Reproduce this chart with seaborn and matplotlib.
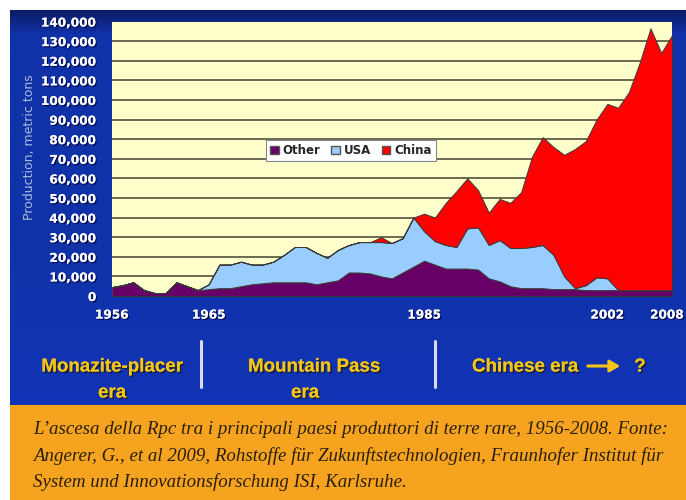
import numpy as np
import pandas as pd
import matplotlib
matplotlib.use("Agg")
import matplotlib.pyplot as plt
import matplotlib.transforms as mtransforms
import seaborn as sns
from matplotlib.patches import Rectangle, Patch, FancyArrowPatch
from matplotlib.lines import Line2D
import matplotlib.patheffects as pe

# ---------------- data ----------------
years = list(range(1956, 2009))
other = [4500, 5500, 7000, 3000, 1500, 1500, 7000, 5000, 3000, 3500,
         4000, 4000, 5000, 6000, 6500, 7000, 7000, 7000, 7000, 6000,
         7000, 8000, 12000, 12000, 11500, 10000, 9000, 12000, 15000, 18000,
         16000, 14000, 14000, 14000, 13500, 9000, 7500, 5000, 4000, 4000,
         4000, 3500, 3500, 3500, 3000, 3000, 3000, 3000, 3000, 3000,
         3000, 3000, 3000]
usa = [0, 0, 0, 0, 0, 0, 0, 0, 0, 2500,
       12000, 12000, 12500, 10000, 9500, 10500, 14000, 18000, 18000, 16000,
       12500, 15500, 14000, 15500, 16000, 17500, 18000, 17500, 25000, 15000,
       12000, 12000, 11000, 20500, 21500, 17000, 21000, 19500, 20500, 21000,
       22000, 17500, 6500, 500, 2500, 6500, 6000, 0, 0, 0,
       0, 0, 0]
china = [0, 0, 0, 0, 0, 0, 0, 0, 0, 0,
         0, 0, 0, 0, 0, 0, 0, 0, 0, 0,
         0, 0, 0, 0, 0, 2500, 0, 0, 0, 9000,
         12000, 21500, 28500, 25500, 19000, 16500, 21000, 23000, 28500, 46000,
         55000, 55000, 62000, 71000, 73500, 80500, 89000, 93000, 101000, 116000,
         133500, 121000, 130000]
series_names = ["Other", "USA", "China"]
series_colors = ["#660066", "#99CCFF", "#FF0000"]
y_ticks = list(range(0, 140001, 10000))
y_tick_labels = [f"{v:,}" for v in y_ticks]
x_ticks = [1956, 1965, 1985, 2002, 2008]
y_label = "Production, metric tons"
caption_lines = [
    "L\u2019ascesa della Rpc tra i principali paesi produttori di terre rare, 1956-2008. Fonte:",
    "Angerer, G., et al 2009, Rohstoffe f\u00fcr Zukunftstechnologien, Fraunhofer Institut f\u00fcr",
    "System und Innovationsforschung ISI, Karlsruhe.",
]

n = len(years)
df = pd.DataFrame({
    "year": years * 3,
    "production": other + usa + china,
    "country": ["Other"] * n + ["USA"] * n + ["China"] * n,
})

# ---------------- figure ----------------
W, H = 686, 500
sns.set_style("white")
fig = plt.figure(figsize=(W / 100, H / 100), dpi=100)
fig.patch.set_facecolor("white")


def fx(x):
    return x / W


def fy(y):
    return 1 - y / H


# background panel (blue) + caption box (orange)
bg = fig.add_axes([0, 0, 1, 1], zorder=0)
bg.set_xlim(0, W)
bg.set_ylim(H, 0)
bg.axis("off")
rows = np.linspace(0, 1, 400)[:, None]
top_c = np.array([12, 28, 100]) / 255
mid_c = np.array([16, 50, 168]) / 255
bot_c = np.array([18, 52, 182]) / 255
t = np.clip(rows / 0.06, 0, 1)
img = top_c * (1 - t) + mid_c * t
t2 = np.clip((rows - 0.6) / 0.4, 0, 1)
img = img * (1 - t2) + bot_c * t2
img = np.repeat(img[:, None, :], 2, axis=1)
bg.imshow(img, extent=[10, W, 405, 10], aspect="auto", interpolation="bilinear", zorder=0)
bg.add_patch(Rectangle((10, 405), W - 10, 95, facecolor="#F6A41F", edgecolor="none", zorder=1))

# main axes
L, R, T, B = 111.7, 672.0, 21.5, 296.0
ax = fig.add_axes([fx(L), fy(B), (R - L) / W, (B - T) / H], zorder=2)
ax.set_facecolor("#FFFFCC")

palette = dict(zip(series_names, series_colors))
sns.histplot(data=df, x="year", weights="production", hue="country",
             hue_order=["China", "USA", "Other"], multiple="stack",
             element="poly", discrete=True, palette=palette, alpha=1,
             edgecolor="#3a3a3a", linewidth=0.7, legend=False, ax=ax, zorder=3)

ax.set_xlim(1956, 2008)
ax.set_ylim(0, 140000)
for v in y_ticks[1:-1]:
    ax.axhline(v, color="#5e5e48", lw=1.3, zorder=1)
for s in ax.spines.values():
    s.set_visible(False)
ax.set_yticks(y_ticks)
ax.set_yticklabels(y_tick_labels)
ax.set_xticks(x_ticks)
ax.set_xticklabels([str(x) for x in x_ticks])
ax.tick_params(axis="both", length=0, colors="white", labelsize=8.7)
ax.tick_params(axis="y", pad=11)
ax.tick_params(axis="x", pad=9)
for lab in ax.get_xticklabels() + ax.get_yticklabels():
    lab.set_fontweight("bold")
    lab.set_path_effects([pe.withSimplePatchShadow(offset=(1, -1), shadow_rgbFace="#000033", alpha=0.7), pe.Normal()])
last = ax.get_xticklabels()[-1]
last.set_transform(last.get_transform() + mtransforms.ScaledTranslation(-5 / 100, 0, fig.dpi_scale_trans))
ax.set_xlabel("")
ax.set_ylabel("")
fig.text(fx(30), fy(147), y_label, rotation=90, ha="center", va="center",
         color="#A9BCDB", fontsize=9)

handles = [Patch(facecolor=c, edgecolor="#555555", label=l) for l, c in zip(series_names, series_colors)]
leg = ax.legend(handles=handles, ncol=3, loc="center", bbox_to_anchor=((351 - L) / (R - L), (B - 150.5) / (B - T)),
                frameon=True, fancybox=False, edgecolor="#888888", facecolor="white", framealpha=1,
                prop=dict(weight="bold", size=8.5), handlelength=0.75, handleheight=0.75,
                handletextpad=0.3, columnspacing=0.9, borderpad=0.35)
leg.get_frame().set_linewidth(0.8)
leg.set_zorder(10)

# era labels
gold = "#F4C416"
shadow = [pe.withSimplePatchShadow(offset=(1.2, -1.2), shadow_rgbFace="#1a1a1a", alpha=0.8), pe.Normal()]
efont = dict(family="Liberation Sans", weight="bold", fontsize=13.5, color=gold)
fig.text(fx(112), fy(367), "Monazite-placer", ha="center", va="center", path_effects=shadow, **efont)
fig.text(fx(112), fy(393), "era", ha="center", va="center", path_effects=shadow, **efont)
fig.text(fx(314), fy(367), "Mountain Pass", ha="center", va="center", path_effects=shadow, **efont)
fig.text(fx(305), fy(393), "era", ha="center", va="center", path_effects=shadow, **efont)
fig.text(fx(472), fy(367), "Chinese era", ha="left", va="center", path_effects=shadow, **efont)
fig.text(fx(640), fy(367), "?", ha="center", va="center", path_effects=shadow, **efont)
arrow = FancyArrowPatch((fx(585), fy(366)), (fx(623), fy(366)), transform=fig.transFigure,
                        arrowstyle="-|>,head_length=6,head_width=3.5", color=gold, lw=2.2,
                        mutation_scale=1, zorder=5)
fig.add_artist(arrow)
for xs in (201, 435):
    fig.add_artist(Line2D([fx(xs), fx(xs)], [fy(341), fy(387)], transform=fig.transFigure,
                          color="#D8DCEC", lw=2.2, zorder=5))

# caption
renderer = fig.canvas.get_renderer()
cfont = dict(family="Liberation Serif", style="italic", color="#2a1e10")
probe = fig.text(0, 0, caption_lines[0], fontsize=12, **cfont)
w = probe.get_window_extent(renderer=renderer).width
probe.remove()
fs = 12 * (666 - 33) / w
for line, yb in zip(caption_lines, (434, 461, 487)):
    fig.text(fx(33), fy(yb), line, fontsize=fs, ha="left", va="baseline", **cfont)

fig.savefig("out.png", dpi=100)
